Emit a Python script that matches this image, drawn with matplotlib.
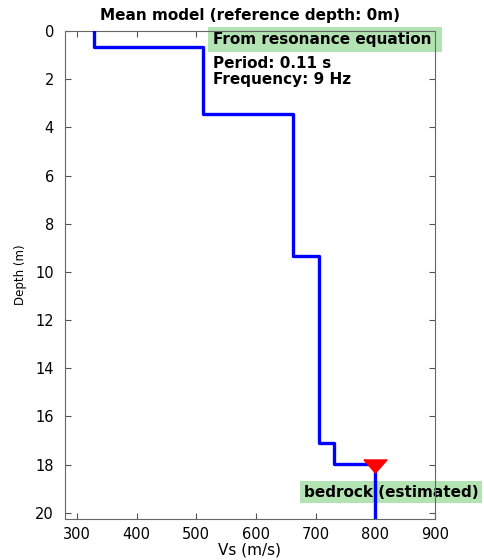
import numpy as np
import matplotlib
matplotlib.use('Agg')
import matplotlib.pyplot as plt

plt.rcParams['font.family'] = ['DejaVu Sans']

# Layered Vs profile (top of each layer and shear-wave velocity)
layer_top = [0.0, 0.66, 3.44, 9.34, 17.1, 17.97]
vs_layer = [328, 511, 662, 705, 731, 800]
max_depth = 20.26

bedrock_depth = 18.05
bedrock_vs = 800
period = 0.11
frequency = 9

# build the staircase from the layer tables
depth_pts = []
vs_pts = []
bottoms = layer_top[1:] + [max_depth]
for top, bot, v in zip(layer_top, bottoms, vs_layer):
    depth_pts += [top, bot]
    vs_pts += [v, v]

fig = plt.figure(figsize=(4.84, 5.6), dpi=100)
ax = fig.add_axes([65/484, 1-519/560, 370/484, 488/560])

ax.plot(vs_pts, depth_pts, color='#0000ff', lw=2.4, zorder=3)
# flat downward triangle for the bedrock marker
tri = [(-1, 0.57), (1, 0.57), (0, -0.57), (-1, 0.57)]
ax.plot(bedrock_vs, bedrock_depth, marker=tri, color='red', markersize=16.5, zorder=4)

ax.set_xlim(280, 900)
ax.set_ylim(max_depth, 0)
ax.set_xticks(np.arange(300, 901, 100))
ax.set_yticks(np.arange(0, 21, 2))
ax.tick_params(direction='in', top=True, right=True, labelsize=10.5, length=4, color='#555555')
ax.tick_params(axis='y', pad=8)
ax.tick_params(axis='x', pad=6)
for s in ax.spines.values():
    s.set_color('#666666')

ax.set_xlabel('Vs (m/s)', fontsize=11, labelpad=0)
ax.set_ylabel('Depth (m)', fontsize=8.5, labelpad=6)
ax.set_title('Mean model (reference depth: 0m)', fontsize=11, fontweight='bold', pad=8)

green = '#b3e3b3'
ax.text(528, 0.36, 'From resonance equation ', fontsize=11, fontweight='bold',
        va='center', ha='left', clip_on=False, zorder=2,
        bbox=dict(facecolor=green, edgecolor='none', pad=3.5))
ax.text(528, 1.05, 'Period: %.2f s\nFrequency: %d Hz' % (period, frequency),
        fontsize=11, fontweight='bold', va='top', ha='left', linespacing=1.1)
ax.text(826, 19.15, 'bedrock (estimated)', fontsize=11, fontweight='bold',
        va='center', ha='center', clip_on=False, zorder=2,
        bbox=dict(facecolor=green, edgecolor='none', pad=2.5))

fig.savefig('out.png', dpi=100)
